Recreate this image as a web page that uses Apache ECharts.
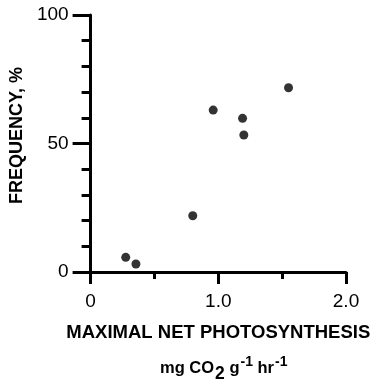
<!DOCTYPE html>
<html>
<head>
<meta charset="utf-8">
<script src="https://cdn.jsdelivr.net/npm/echarts@6/dist/echarts.min.js"></script>
<style>
  html, body { margin: 0; padding: 0; background: #fff; }
  #main { width: 378px; height: 380px; }
</style>
</head>
<body>
<div id="main"></div>
<script>
// photosynthesis (mg CO2 g-1 hr-1) vs frequency (%)
var photosynthesis = [0.275, 0.355, 0.80, 0.96, 1.19, 1.20, 1.55];
var frequency = [5.7, 3.1, 21.9, 63.0, 59.8, 53.3, 71.7];
var xTickLabels = { 0: "0", 1: "1.0", 2: "2.0" };

var points = photosynthesis.map(function (x, i) {
  return [x, frequency[i]];
});

var font = "Liberation Sans, Arial, Helvetica, sans-serif";
var chart = echarts.init(document.getElementById("main"));

chart.setOption({
  animation: false,
  grid: { left: 90, top: 15, right: 32, bottom: 108 },
  xAxis: {
    type: "value",
    min: 0,
    max: 2,
    interval: 1,
    name: "MAXIMAL NET PHOTOSYNTHESIS",
    nameLocation: "middle",
    nameGap: 51,
    nameTextStyle: { color: "#000", fontFamily: font, fontWeight: "bold", fontSize: 18.5 },
    axisLine: { lineStyle: { color: "#000", width: 3 } },
    axisTick: { length: 12, lineStyle: { color: "#000", width: 3 } },
    minorTick: { show: true, splitNumber: 2, length: 7, lineStyle: { color: "#000", width: 3 } },
    splitLine: { show: false },
    axisLabel: {
      margin: 20,
      color: "#000",
      fontFamily: font,
      fontSize: 19,
      formatter: function (v) { return xTickLabels[v]; }
    }
  },
  yAxis: {
    type: "value",
    min: 0,
    max: 100,
    interval: 50,
    name: "FREQUENCY, %",
    nameLocation: "middle",
    nameRotate: 90,
    nameGap: 56,
    nameTextStyle: { color: "#000", fontFamily: font, fontWeight: "bold", fontSize: 18, padding: [0, 0, 0, 16] },
    axisLine: { lineStyle: { color: "#000", width: 3 } },
    axisTick: { length: 18, lineStyle: { color: "#000", width: 3 } },
    minorTick: { show: true, splitNumber: 5, length: 9, lineStyle: { color: "#000", width: 3 } },
    splitLine: { show: false },
    axisLabel: { margin: 22, color: "#000", fontFamily: font, fontSize: 19 }
  },
  graphic: [{
    type: "text",
    left: 160,
    top: 355,
    style: {
      text: "{b|mg CO}{sub|2}{b| g}{sup|-1}{b| hr}{sup|-1}",
      rich: {
        b: { fontFamily: font, fontWeight: "bold", fontSize: 16.5, fill: "#000" },
        sub: { fontFamily: font, fontWeight: "bold", fontSize: 17.5, fill: "#000", padding: [12, 0, 0, 1] },
        sup: { fontFamily: font, fontWeight: "bold", fontSize: 14, fill: "#000", padding: [0, 0, 12, 1] }
      }
    }
  }],
  series: [{
    type: "scatter",
    data: points,
    symbol: "circle",
    symbolSize: 9,
    itemStyle: { color: "#000" }
  }]
});
</script>
</body>
</html>
